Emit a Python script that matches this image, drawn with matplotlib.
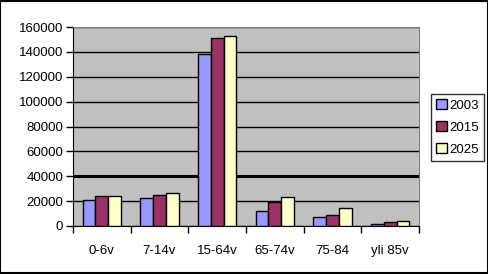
import numpy as np
import matplotlib.pyplot as plt

categories = ["0-6v", "7-14v", "15-64v", "65-74v", "75-84", "yli 85v"]
years = ["2003", "2015", "2025"]
v2003 = [20800, 22300, 138500, 12000, 7000, 1400]
v2015 = [24000, 24800, 151500, 19300, 8600, 3000]
v2025 = [24000, 26500, 152500, 23000, 14200, 4000]
colors = ["#9999ff", "#993366", "#ffffcc"]

plt.rcParams["font.family"] = ["Liberation Sans", "DejaVu Sans"]
plt.rcParams["font.size"] = 9.5

fig = plt.figure(figsize=(4.89, 2.74), dpi=100)
ax = fig.add_axes([73 / 489, 1 - 226 / 274, 346 / 489, 199 / 274])
ax.set_facecolor("#c0c0c0")

x = np.arange(len(categories))
w = 1 / 4.5
for i, (vals, c, yr) in enumerate(zip([v2003, v2015, v2025], colors, years)):
    ax.bar(x + (i - 1) * w, vals, w, color=c, edgecolor="black", linewidth=1, label=yr, zorder=3)

ax.set_xlim(-0.5, len(categories) - 0.5)
ax.set_ylim(0, 160000)
ax.set_yticks(np.arange(0, 160001, 20000))
ax.yaxis.grid(True, color="black", linewidth=1, zorder=1)
ax.set_axisbelow(True)
# the 40000 gridline renders heavier in the original
ax.axhline(40000, color="black", linewidth=2.2, zorder=1)

ax.set_xticks(x)
ax.set_xticklabels(categories)
ax.set_xticks(np.arange(-0.5, len(categories)), minor=True)
ax.tick_params(axis="x", which="major", length=0, pad=14)
ax.tick_params(axis="x", which="minor", length=5, width=1, direction="out")
ax.tick_params(axis="y", length=5, width=1, direction="out", pad=2)

for s in ["top", "right"]:
    ax.spines[s].set_color("#808080")
for s in ["left", "bottom"]:
    ax.spines[s].set_color("black")

leg = ax.legend(loc="upper left", bbox_to_anchor=(431 / 489, 1 - 94 / 274),
                bbox_transform=fig.transFigure, frameon=True, fancybox=False,
                edgecolor="black", handlelength=0.8, handleheight=0.8,
                handletextpad=0.2, borderpad=0.4, labelspacing=0.7,
                borderaxespad=0)
leg.get_frame().set_linewidth(1)

fig.patches.append(plt.Rectangle((0.001, 0.002), 0.997, 0.995, transform=fig.transFigure,
                                 fill=False, edgecolor="black", linewidth=1.5))

fig.savefig("out.png", dpi=100)
